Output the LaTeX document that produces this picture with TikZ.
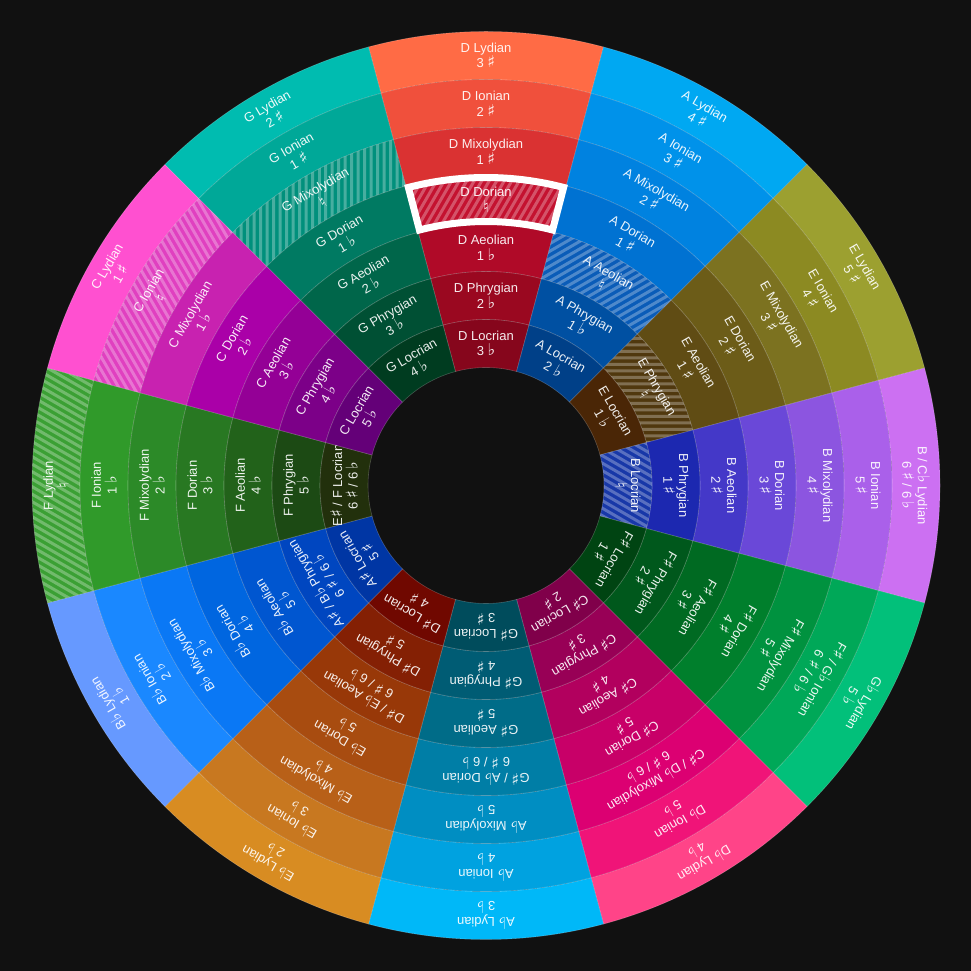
\documentclass[tikz,border=0pt]{standalone}
\usepackage{fontspec}
\setmainfont{Liberation Sans}
\newfontfamily\symf{DejaVu Sans}[Scale=1.25]
\newcommand\shp{{\symf ♯}}
\newcommand\flt{{\symf ♭}}
\newcommand\nat{{\symf ♮}}
\definecolor{bg}{HTML}{111111}
\tikzset{
 lbl/.style={text=white, text opacity=0.92, align=center, inner sep=0pt, font=\fontsize{13}{15.7}\selectfont},
 sepline/.style={draw=white, draw opacity=0.22, line width=0.6pt},
 hatchline/.style={draw=white, draw opacity=0.28, line width=3pt},
 hilite/.style={draw=white, line width=7pt},
}
\newcommand\cell[7]{%
 \begin{scope}[shift={(486,485.5)}, rotate=#1-90]
  \pgfmathsetmacro\rO{454-48*(#3-1)}%
  \pgfmathsetmacro\rI{\rO-48}%
  \pgfmathsetmacro\rM{\rO-24}%
  \definecolor{cc}{HTML}{#4}%
  \fill[cc] (75:\rI) arc[start angle=75,end angle=105,radius=\rI] -- (105:\rO) arc[start angle=105,end angle=75,radius=\rO] -- cycle;
  \ifnum#7=1
   \begin{scope}
    \clip (75:\rI) arc[start angle=75,end angle=105,radius=\rI] -- (105:\rO) arc[start angle=105,end angle=75,radius=\rO] -- cycle;
    \foreach \k in {-24,...,24}
      \draw[hatchline] ([shift={(150:{\k*6.5})}]90:\rM) ++(240:150) -- ++(60:300);
   \end{scope}
  \fi
  \draw[sepline] (75:\rI) arc[start angle=75,end angle=105,radius=\rI] -- (105:\rO) arc[start angle=105,end angle=75,radius=\rO] -- cycle;
  \node[lbl, rotate=#1-90] (#2#3) at (90:\rM) {#5\\#6};
 \end{scope}}
\begin{document}
\begin{tikzpicture}[x=1pt,y=1pt]
\useasboundingbox (0,0) rectangle (971,971);
\fill[bg] (0,0) rectangle (971,971);
% D
\cell{90}{D}{1}{FF6B45}{D Lydian}{3 \shp}{0}
\cell{90}{D}{2}{F0503C}{D Ionian}{2 \shp}{0}
\cell{90}{D}{3}{DA3232}{D Mixolydian}{1 \shp}{0}
\cell{90}{D}{4}{C41230}{D Dorian}{\nat}{1}
\cell{90}{D}{5}{B00A28}{D Aeolian}{1 \flt}{0}
\cell{90}{D}{6}{9A0820}{D Phrygian}{2 \flt}{0}
\cell{90}{D}{7}{86061C}{D Locrian}{3 \flt}{0}
% A
\cell{60}{A}{1}{00A8F2}{A Lydian}{4 \shp}{0}
\cell{60}{A}{2}{0092EA}{A Ionian}{3 \shp}{0}
\cell{60}{A}{3}{0082E0}{A Mixolydian}{2 \shp}{0}
\cell{60}{A}{4}{0072D2}{A Dorian}{1 \shp}{0}
\cell{60}{A}{5}{0A5CB8}{A Aeolian}{\nat}{1}
\cell{60}{A}{6}{0050A2}{A Phrygian}{1 \flt}{0}
\cell{60}{A}{7}{004088}{A Locrian}{2 \flt}{0}
% E
\cell{30}{E}{1}{9CA030}{E Lydian}{5 \shp}{0}
\cell{30}{E}{2}{8C8A22}{E Ionian}{4 \shp}{0}
\cell{30}{E}{3}{7C7220}{E Mixolydian}{3 \shp}{0}
\cell{30}{E}{4}{6C5C18}{E Dorian}{2 \shp}{0}
\cell{30}{E}{5}{604C14}{E Aeolian}{1 \shp}{0}
\cell{30}{E}{6}{50380E}{E Phrygian}{\nat}{1}
\cell{30}{E}{7}{4A2606}{E Locrian}{1 \flt}{0}
% B
\cell{0}{B}{1}{CC70F2}{B / C\flt{} Lydian}{6 \shp{} / 6 \flt}{0}
\cell{0}{B}{2}{AA60EA}{B Ionian}{5 \shp}{0}
\cell{0}{B}{3}{8C55E0}{B Mixolydian}{4 \shp}{0}
\cell{0}{B}{4}{6A48D8}{B Dorian}{3 \shp}{0}
\cell{0}{B}{5}{4438C8}{B Aeolian}{2 \shp}{0}
\cell{0}{B}{6}{1C28B0}{B Phrygian}{1 \shp}{0}
\cell{0}{B}{7}{1838A8}{B Locrian}{\nat}{1}
% F sharp
\cell{-30}{Fs}{1}{02C07A}{G\flt{} Lydian}{5 \flt}{0}
\cell{-30}{Fs}{2}{00A858}{F\shp{} / G\flt{} Ionian}{6 \shp{} / 6 \flt}{0}
\cell{-30}{Fs}{3}{00923F}{F\shp{} Mixolydian}{5 \shp}{0}
\cell{-30}{Fs}{4}{007F2C}{F\shp{} Dorian}{4 \shp}{0}
\cell{-30}{Fs}{5}{006A22}{F\shp{} Aeolian}{3 \shp}{0}
\cell{-30}{Fs}{6}{00581C}{F\shp{} Phrygian}{2 \shp}{0}
\cell{-30}{Fs}{7}{004412}{F\shp{} Locrian}{1 \shp}{0}
% C sharp
\cell{-60}{Cs}{1}{FF4488}{D\flt{} Lydian}{4 \flt}{0}
\cell{-60}{Cs}{2}{F01478}{D\flt{} Ionian}{5 \flt}{0}
\cell{-60}{Cs}{3}{DC0072}{C\shp{} / D\flt{} Mixolydian}{6 \shp{} / 6 \flt}{0}
\cell{-60}{Cs}{4}{C80068}{C\shp{} Dorian}{5 \shp}{0}
\cell{-60}{Cs}{5}{B2005E}{C\shp{} Aeolian}{4 \shp}{0}
\cell{-60}{Cs}{6}{980056}{C\shp{} Phrygian}{3 \shp}{0}
\cell{-60}{Cs}{7}{80004A}{C\shp{} Locrian}{2 \shp}{0}
% G sharp
\cell{-90}{Gs}{1}{00B8F8}{A\flt{} Lydian}{3 \flt}{0}
\cell{-90}{Gs}{2}{00A2E0}{A\flt{} Ionian}{4 \flt}{0}
\cell{-90}{Gs}{3}{008EC2}{A\flt{} Mixolydian}{5 \flt}{0}
\cell{-90}{Gs}{4}{007EA6}{G\shp{} / A\flt{} Dorian}{6 \shp{} / 6 \flt}{0}
\cell{-90}{Gs}{5}{006C88}{G\shp{} Aeolian}{5 \shp}{0}
\cell{-90}{Gs}{6}{005C74}{G\shp{} Phrygian}{4 \shp}{0}
\cell{-90}{Gs}{7}{004C5C}{G\shp{} Locrian}{3 \shp}{0}
% E flat
\cell{-120}{Eb}{1}{D88C22}{E\flt{} Lydian}{2 \flt}{0}
\cell{-120}{Eb}{2}{C87820}{E\flt{} Ionian}{3 \flt}{0}
\cell{-120}{Eb}{3}{B86018}{E\flt{} Mixolydian}{4 \flt}{0}
\cell{-120}{Eb}{4}{A84C10}{E\flt{} Dorian}{5 \flt}{0}
\cell{-120}{Eb}{5}{983808}{D\shp{} / E\flt{} Aeolian}{6 \shp{} / 6 \flt}{0}
\cell{-120}{Eb}{6}{842004}{D\shp{} Phrygian}{5 \shp}{0}
\cell{-120}{Eb}{7}{700800}{D\shp{} Locrian}{4 \shp}{0}
% B flat
\cell{-150}{Bb}{1}{6699FF}{B\flt{} Lydian}{1 \flt}{0}
\cell{-150}{Bb}{2}{1A88FF}{B\flt{} Ionian}{2 \flt}{0}
\cell{-150}{Bb}{3}{0A78F5}{B\flt{} Mixolydian}{3 \flt}{0}
\cell{-150}{Bb}{4}{0066E0}{B\flt{} Dorian}{4 \flt}{0}
\cell{-150}{Bb}{5}{0056D0}{B\flt{} Aeolian}{5 \flt}{0}
\cell{-150}{Bb}{6}{0046C0}{A\shp{} / B\flt{} Phrygian}{6 \shp{} / 6 \flt}{0}
\cell{-150}{Bb}{7}{0036A4}{A\shp{} Locrian}{5 \shp}{0}
% F
\cell{180}{F}{1}{3BA034}{F Lydian}{\nat}{1}
\cell{180}{F}{2}{309A2A}{F Ionian}{1 \flt}{0}
\cell{180}{F}{3}{2C8A28}{F Mixolydian}{2 \flt}{0}
\cell{180}{F}{4}{287822}{F Dorian}{3 \flt}{0}
\cell{180}{F}{5}{22621A}{F Aeolian}{4 \flt}{0}
\cell{180}{F}{6}{1C4A14}{F Phrygian}{5 \flt}{0}
\cell{180}{F}{7}{22300C}{E\shp{} / F Locrian}{6 \shp{} / 6 \flt}{0}
% C
\cell{150}{C}{1}{FF50D0}{C Lydian}{1 \shp}{0}
\cell{150}{C}{2}{E040C0}{C Ionian}{\nat}{1}
\cell{150}{C}{3}{C822B0}{C Mixolydian}{1 \flt}{0}
\cell{150}{C}{4}{AA00A8}{C Dorian}{2 \flt}{0}
\cell{150}{C}{5}{940096}{C Aeolian}{3 \flt}{0}
\cell{150}{C}{6}{7C0088}{C Phrygian}{4 \flt}{0}
\cell{150}{C}{7}{640078}{C Locrian}{5 \flt}{0}
% G
\cell{120}{G}{1}{00BCB0}{G Lydian}{2 \shp}{0}
\cell{120}{G}{2}{00A898}{G Ionian}{1 \shp}{0}
\cell{120}{G}{3}{00907C}{G Mixolydian}{\nat}{1}
\cell{120}{G}{4}{007A62}{G Dorian}{1 \flt}{0}
\cell{120}{G}{5}{00664A}{G Aeolian}{2 \flt}{0}
\cell{120}{G}{6}{005034}{G Phrygian}{3 \flt}{0}
\cell{120}{G}{7}{003C20}{G Locrian}{4 \flt}{0}
% highlight of D Dorian
\begin{scope}[shift={(486,485.5)}]
\draw[hilite] (75.4:264) arc[start angle=75.4,end angle=104.6,radius=264] -- (104.6:308) arc[start angle=104.6,end angle=75.4,radius=308] -- cycle;
\end{scope}
\end{tikzpicture}
\end{document}
